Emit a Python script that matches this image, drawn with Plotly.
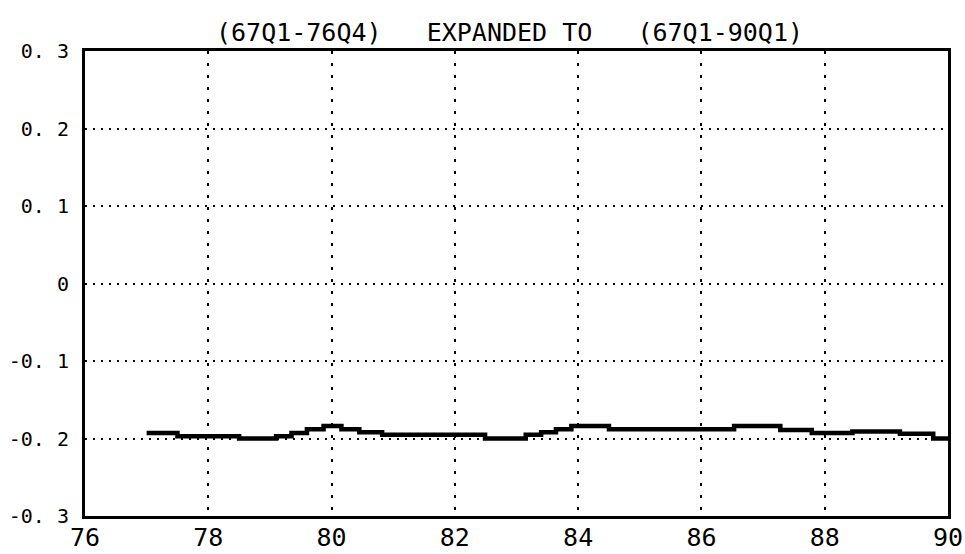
import plotly.graph_objects as go

# Step series (start of each step, in years 19xx) and values
step_start = [77.0, 77.5, 78.5, 79.1, 79.35, 79.6, 79.87, 80.16, 80.45, 80.82,
              82.49, 83.15, 83.4, 83.64, 83.89, 84.5, 86.53, 87.28, 87.79,
              88.45, 89.22, 89.76]
step_value = [-0.193, -0.197, -0.2, -0.197, -0.193, -0.188, -0.184, -0.188,
              -0.192, -0.195, -0.2, -0.195, -0.192, -0.188, -0.184, -0.188,
              -0.184, -0.189, -0.193, -0.191, -0.194, -0.2]
series_end = 90.0

x_ticks = [76, 78, 80, 82, 84, 86, 88, 90]
x_tick_labels = ["76", "78", "80", "82", "84", "86", "88", "90"]
y_ticks = [-0.3, -0.2, -0.1, 0, 0.1, 0.2, 0.3]
y_tick_labels = ["-0. 3", "-0. 2", "-0. 1", "0", "0. 1", "0. 2", "0. 3"]
title_text = "(67Q1-76Q4)   EXPANDED TO   (67Q1-90Q1)"

xs = step_start + [series_end]
ys = step_value + [step_value[-1]]

FONT = "DejaVu Sans Mono"

fig = go.Figure()
fig.add_trace(go.Scatter(
    x=xs, y=ys, mode="lines", line=dict(color="black", width=4.5, shape="hv"),
    hoverinfo="skip", showlegend=False,
))

fig.update_layout(
    width=965, height=554,
    margin=dict(l=85, r=17, t=51, b=38),
    paper_bgcolor="white", plot_bgcolor="white",
    showlegend=False,
    font=dict(family=FONT, color="black"),
    annotations=[dict(
        text=title_text, xref="paper", yref="paper", x=0.492, y=1.0,
        xanchor="center", yanchor="bottom", yshift=2, showarrow=False,
        font=dict(family=FONT, size=25, color="black"),
    )],
)
fig.update_xaxes(
    range=[76, 90], tickvals=x_ticks, ticktext=x_tick_labels,
    showgrid=True, gridcolor="black", gridwidth=2, griddash="3px,9px",
    showline=True, linecolor="black", linewidth=3, mirror=True,
    ticks="", zeroline=False, ticklabelstandoff=-3, automargin=False,
    tickfont=dict(family=FONT, size=25, color="black"),
)
fig.update_yaxes(
    range=[-0.3, 0.3], tickvals=y_ticks, ticktext=y_tick_labels,
    showgrid=True, gridcolor="black", gridwidth=2, griddash="2px,6px",
    showline=True, linecolor="black", linewidth=3, mirror=True,
    ticks="", zeroline=False, ticklabelstandoff=9, automargin=False,
    tickfont=dict(family=FONT, size=20, color="black"),
)

fig.write_html("out.html")
